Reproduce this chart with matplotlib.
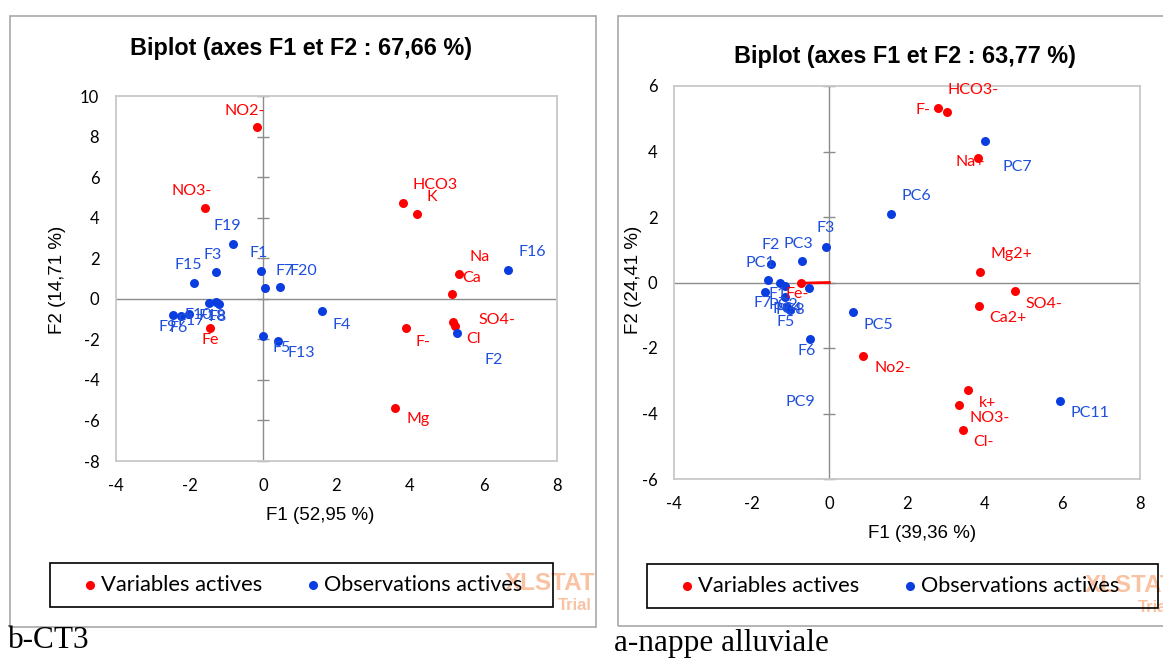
import matplotlib
matplotlib.use("Agg")
import matplotlib.pyplot as plt
from matplotlib.patches import Rectangle

# ---------------- b-CT3 ----------------
ct3_title = "Biplot (axes F1 et F2 : 67,66 %)"
ct3_xlabel = "F1 (52,95 %)"
ct3_ylabel = "F2 (14,71 %)"
ct3_var_names = ["NO2-", "NO3-", "HCO3", "K", "Na", "Ca", "SO4-", "Cl", "F-", "Mg", "Fe"]
ct3_var_x = [-0.16, -1.58, 3.81, 4.18, 5.33, 5.15, 5.17, 5.23, 3.89, 3.60, -1.44]
ct3_var_y = [8.49, 4.50, 4.72, 4.18, 1.22, 0.26, -1.16, -1.35, -1.42, -5.41, -1.45]
ct3_obs_names = ["F1", "F2", "F3", "F4", "F5", "F6", "F7", "F8", "F9", "F10",
                 "F13", "F15", "F16", "F17", "F18", "F19", "F20"]
ct3_obs_x = [-0.05, 5.27, -1.28, 1.61, -0.01, -2.22, 0.06, -1.19, -2.46, -1.48,
             0.40, -1.87, 6.67, -2.02, -1.28, -0.82, 0.47]
ct3_obs_y = [1.39, -1.71, 1.32, -0.58, -1.83, -0.86, 0.53, -0.26, -0.78, -0.21,
             -2.09, 0.76, 1.44, -0.75, -0.16, 2.70, 0.58]
ct3_xticks = [-4, -2, 0, 2, 4, 6, 8]
ct3_yticks = [-8, -6, -4, -2, 0, 2, 4, 6, 8, 10]

# ---------------- a-nappe alluviale ----------------
nap_title = "Biplot (axes F1 et F2 : 63,77 %)"
nap_xlabel = "F1 (39,36 %)"
nap_ylabel = "F2 (24,41 %)"
nap_var_names = ["F-", "HCO3-", "Na+", "Mg2+", "SO4-", "Ca2+", "No2-", "k+", "NO3-", "Cl-", "Fe-"]
nap_var_x = [2.79, 3.04, 3.84, 3.87, 4.77, 3.85, 0.87, 3.56, 3.33, 3.45, -0.72]
nap_var_y = [5.33, 5.20, 3.81, 0.31, -0.25, -0.72, -2.23, -3.28, -3.73, -4.50, -0.02]
nap_obs_names = ["F2", "PC1", "F1", "PC2", "F7", "PC4", "PC8", "F5", "PC9", "PC3",
                 "F3", "F6", "PC5", "PC6", "PC7", "PC11"]
nap_obs_x = [-1.49, -1.58, -1.26, -1.15, -1.65, -1.13, -1.09, -1.01, -0.53, -0.70,
             -0.09, -0.51, 0.60, 1.58, 4.00, 5.95]
nap_obs_y = [0.55, 0.08, -0.02, -0.12, -0.30, -0.45, -0.75, -0.85, -0.16, 0.65,
             1.08, -1.74, -0.91, 2.10, 4.31, -3.62]
nap_xticks = [-4, -2, 0, 2, 4, 6, 8]
nap_yticks = [-6, -4, -2, 0, 2, 4, 6]

# label placement (pixel offsets of the label centre from its point)
ct3_var_off = {"NO2-": (-12, 16), "NO3-": (-13, 17), "HCO3": (32, 18), "K": (15, 17),
               "Na": (21, 17), "Ca": (19, 16), "SO4-": (44, 2), "Cl": (18, -13),
               "F-": (17, -14), "Mg": (23, -11), "Fe": (0, -12)}
ct3_obs_off = {"F1": (-3, 18), "F2": (37, -27), "F3": (-3, 17), "F4": (20, -14),
               "F5": (19, -12), "F6": (-3, -12), "F7": (19, 17), "F8": (-2, -13),
               "F9": (-5, -12), "F10": (-10, -12), "F13": (24, -12), "F15": (-6, 18),
               "F16": (24, 18), "F17": (2, -7), "F18": (-4, -14), "F19": (-6, 18),
               "F20": (23, 16)}
nap_var_off = {"F-": (-15, -2), "HCO3-": (26, 22), "Na+": (-8, -4), "Mg2+": (32, 18),
               "SO4-": (29, -13), "Ca2+": (29, -12), "No2-": (30, -12), "k+": (20, -13),
               "NO3-": (31, -13), "Cl-": (20, -12), "Fe-": (-4, -11)}
nap_obs_off = {"F2": (-1, 19), "PC1": (-8, 17), "F1": (-3, -11), "PC2": (-1, -19),
               "F7": (-3, -11), "PC4": (2, -12), "PC8": (3, -3), "F5": (-4, -12),
               "PC9": (-8, -114), "PC3": (-4, 17), "F3": (0, 19), "F6": (-3, -12),
               "PC5": (26, -13), "PC6": (26, 18), "PC7": (33, -26), "PC11": (30, -12)}

RED = "#FF0000"
BLUE = "#0A3DE0"
LBLUE = "#1F4FDD"
SANS = ["Lato", "DejaVu Sans"]
ARIAL = ["Liberation Sans", "DejaVu Sans"]

W, H = 1163, 659
fig = plt.figure(figsize=(W / 100, H / 100), dpi=100)
fig.patch.set_facecolor("white")


def fx(px):
    return px / W


def fy(py):
    return 1 - py / H


def panel(frame, ax_box, xlim, ylim, xticks, yticks, title, title_xy, xlabel, xlabel_xy,
          ylabel, ylabel_xy, vnames, vx, vy, voff, onames, ox, oy, ooff, legend_box,
          wm_xy, caption, caption_xy, arrow_var=None):
    # outer chart frame
    x0, y0, x1, y1 = frame
    fig.patches.append(Rectangle((fx(x0), fy(y1)), fx(x1 - x0), (y1 - y0) / H,
                                 transform=fig.transFigure, fill=False,
                                 edgecolor="#A8A8A8", lw=1.2, zorder=0))
    l, t, r, b = ax_box
    ax = fig.add_axes([fx(l), fy(b), fx(r - l), (b - t) / H])
    ax.set_xlim(*xlim)
    ax.set_ylim(*ylim)
    ax.set_xticks(xticks)
    ax.set_yticks(yticks)
    ax.set_xticklabels([str(v) for v in xticks], fontfamily=SANS, fontsize=12)
    ax.set_yticklabels([str(v) for v in yticks], fontfamily=SANS, fontsize=12)
    ax.tick_params(length=0, pad=12)
    for s in ax.spines.values():
        s.set_color("#C8C8C8")
        s.set_linewidth(1.3)
    ax.axhline(0, color="#8C8C8C", lw=1.0, zorder=1)
    ax.axvline(0, color="#8C8C8C", lw=1.0, zorder=1)
    # small cross ticks on the vertical zero line
    ax.plot([0] * len(yticks), yticks, ls="none", marker="_", ms=9,
            mew=1.0, color="#8C8C8C", zorder=1, clip_on=False)

    if arrow_var is not None:
        i = vnames.index(arrow_var)
        ax.plot([0, vx[i]], [0, vy[i]], color=RED, lw=2, zorder=2)

    ax.scatter(vx, vy, s=42, color=RED, zorder=3, linewidths=0)
    ax.scatter(ox, oy, s=42, color=BLUE, zorder=3, linewidths=0)
    for n, x, y in zip(vnames, vx, vy):
        ax.annotate(n, (x, y), xytext=voff[n], textcoords="offset pixels",
                    ha="center", va="center", color=RED, fontsize=11.5,
                    fontfamily=SANS, zorder=4)
    for n, x, y in zip(onames, ox, oy):
        ax.annotate(n, (x, y), xytext=ooff[n], textcoords="offset pixels",
                    ha="center", va="center", color=LBLUE, fontsize=11.5,
                    fontfamily=SANS, zorder=4)

    fig.text(fx(title_xy[0]), fy(title_xy[1]), title, ha="center", va="center",
             fontsize=16.8, fontweight="bold", fontfamily=ARIAL)
    fig.text(fx(xlabel_xy[0]), fy(xlabel_xy[1]), xlabel, ha="center", va="center",
             fontsize=13.5, fontfamily=ARIAL)
    fig.text(fx(ylabel_xy[0]), fy(ylabel_xy[1]), ylabel, ha="center", va="center",
             fontsize=13.5, fontfamily=ARIAL, rotation=90)

    # watermark, kept behind the legend text
    fig.text(fx(wm_xy[0]), fy(wm_xy[1]), "XLSTAT", ha="left", va="center",
             fontsize=17.5, fontweight="bold", fontfamily=ARIAL, color="#F9C3A3",
             zorder=-1)
    fig.text(fx(wm_xy[0] + 87), fy(wm_xy[1] + 22), "Trial", ha="right", va="center",
             fontsize=12, fontweight="bold", fontfamily=ARIAL, color="#F9C3A3",
             zorder=-1)

    # legend box
    lx0, ly0, lx1, ly1 = legend_box
    fig.patches.append(Rectangle((fx(lx0), fy(ly1)), fx(lx1 - lx0), (ly1 - ly0) / H,
                                 transform=fig.transFigure, fill=False,
                                 edgecolor="black", lw=1.2, zorder=3))
    lax = fig.add_axes([fx(lx0), fy(ly1), fx(lx1 - lx0), (ly1 - ly0) / H])
    lax.set_xlim(lx0, lx1)
    lax.set_ylim(ly1, ly0)
    lax.axis("off")
    lax.patch.set_alpha(0)
    cy = (ly0 + ly1) / 2
    lax.plot([lx0 + 40], [cy], "o", color=RED, ms=5.5)
    lax.text(lx0 + 51, cy, "Variables actives", ha="left", va="center",
             fontsize=15.8, fontfamily=SANS)
    lax.plot([lx0 + 263], [cy], "o", color=BLUE, ms=5.5)
    lax.text(lx0 + 274, cy, "Observations actives", ha="left", va="center",
             fontsize=15.6, fontfamily=SANS)

    fig.text(fx(caption_xy[0]), fy(caption_xy[1]), caption, ha="left", va="center",
             fontsize=22.5, fontfamily=["Liberation Serif", "DejaVu Serif"])
    return ax


panel(frame=(10, 16, 596, 627), ax_box=(116, 96, 557, 461), xlim=(-4, 8), ylim=(-8, 10),
      xticks=ct3_xticks, yticks=ct3_yticks, title=ct3_title, title_xy=(301, 49),
      xlabel=ct3_xlabel, xlabel_xy=(320, 516), ylabel=ct3_ylabel, ylabel_xy=(58, 280),
      vnames=ct3_var_names, vx=ct3_var_x, vy=ct3_var_y, voff=ct3_var_off,
      onames=ct3_obs_names, ox=ct3_obs_x, oy=ct3_obs_y, ooff=ct3_obs_off,
      legend_box=(50, 563, 553, 607), wm_xy=(505, 584), caption="b-CT3",
      caption_xy=(8, 641))

panel(frame=(618, 16, 1175, 626), ax_box=(674, 86, 1140, 479), xlim=(-4, 8), ylim=(-6, 6),
      xticks=nap_xticks, yticks=nap_yticks, title=nap_title, title_xy=(905, 57),
      xlabel=nap_xlabel, xlabel_xy=(922, 533), ylabel=nap_ylabel, ylabel_xy=(634, 280),
      vnames=nap_var_names, vx=nap_var_x, vy=nap_var_y, voff=nap_var_off,
      onames=nap_obs_names, ox=nap_obs_x, oy=nap_obs_y, ooff=nap_obs_off,
      legend_box=(647, 564, 1158, 608), wm_xy=(1085, 585), caption="a-nappe alluviale",
      caption_xy=(614, 643), arrow_var="Fe-")

fig.savefig("out.png", dpi=100, facecolor="white")
